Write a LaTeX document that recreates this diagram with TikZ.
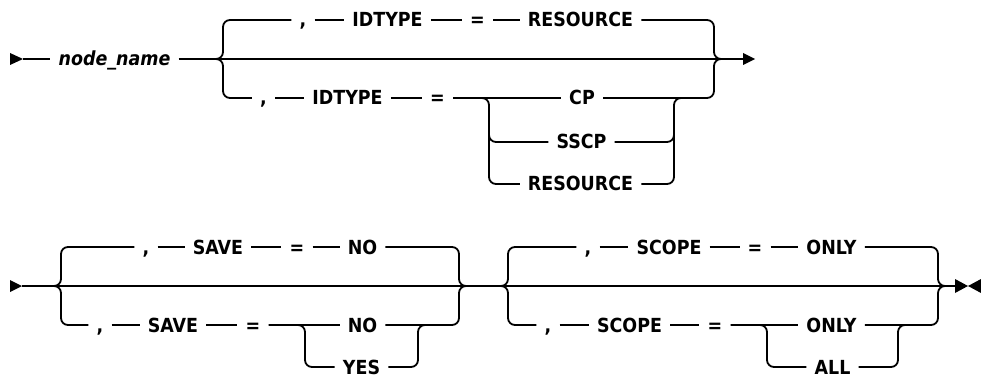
\documentclass[tikz,border=0pt]{standalone}
\usepackage{fontspec}
\setmainfont{DejaVu Sans Condensed}
\begin{document}
\begin{tikzpicture}[x=1pt,y=-1pt,
  rail/.style={line width=1.8pt, rounded corners=7pt, line cap=butt},
  tok/.style={font=\fontsize{19.4}{22}\selectfont\bfseries, inner xsep=8pt, inner ysep=0pt,
    text height=14pt, text depth=0pt, anchor=center},
  ital/.style={tok, font=\fontsize{19.4}{22}\selectfont\bfseries\itshape}]
\useasboundingbox (0,0) rectangle (981,379);
% ---------------- Row 1 ----------------
\coordinate (s1) at (23,59);
\coordinate (e1) at (743,59);
\node[ital] (nn) at (114.5,59) {node\_name};
\coordinate (b1lt) at (210,59);
\coordinate (b1lv) at (223,59);
\coordinate (b1rv) at (714,59);
\coordinate (b1rt) at (728,59);
\node[tok] (c1u) at (303,20) {,};
\node[tok] (id1u) at (387.5,20) {IDTYPE};
\node[tok] (eq1u) at (477.5,20) {=};
\node[tok] (res1u) at (580.5,20) {RESOURCE};
\node[tok] (c1l) at (263.5,98) {,};
\node[tok] (id1l) at (347.5,98) {IDTYPE};
\node[tok] (eq1l) at (437.5,98) {=};
\node[tok] (cp) at (582,98) {CP};
\node[tok] (sscp) at (581.5,142) {SSCP};
\node[tok] (res1l) at (580.5,184) {RESOURCE};
\coordinate (sb1l) at (489,98);
\coordinate (sb1lm) at (489,120);
\coordinate (sb1r) at (674,98);
\coordinate (sb1rm) at (674,120);
\coordinate (sb1rr) at (690,98);
\fill (s1) ++(-13,-6) -- ++(13,6) -- ++(-13,6) -- cycle;
\draw[rail] (s1) -- (nn.west);
\draw[rail] (nn.east) -- (e1);
\fill (e1) ++(0,-6) -- ++(12,6) -- ++(-12,6) -- cycle;
% left brace
\draw[rail] (b1lt) -- (b1lv) |- (c1u.west);
\draw[rail] (b1lt) -- (b1lv) |- (c1l.west);
% upper
\draw[rail] (c1u) -- (id1u);
\draw[rail] (id1u) -- (eq1u);
\draw[rail] (eq1u) -- (res1u);
\draw[rail] (res1u.east) -| (b1rv) -- (b1rt);
% lower
\draw[rail] (c1l) -- (id1l);
\draw[rail] (id1l) -- (eq1l);
\draw[rail] (eq1l.east) -- (cp.west);
\draw[rail] (eq1l.east) -- (sb1l) |- (res1l.west);
\draw[rail] (sb1lm) |- (sscp.west);
\draw[rail] (cp.east) -| (b1rv) -- (b1rt);
\draw[rail] (res1l.east) -| (sb1r) -- (sb1rr);
\draw[rail] (sscp.east) -| (sb1rm);
% ---------------- Row 2 ----------------
\coordinate (s2) at (22,286);
\coordinate (e2) at (955,286);
\fill (s2) ++(-12,-6) -- ++(12,6) -- ++(-12,6) -- cycle;
\draw[rail] (s2) -- (e2);
\fill (e2) ++(0,-7) -- ++(13,7) -- ++(-13,7) -- cycle;
\fill (e2) ++(26,-7) -- ++(-13,7) -- ++(13,7) -- cycle;
% SAVE group
\coordinate (b2lt) at (48,286);
\coordinate (b2lv) at (61,286);
\coordinate (b2rv) at (459,286);
\coordinate (b2rt) at (472,286);
\node[tok] (c2u) at (146,247) {,};
\node[tok] (sv2u) at (218,247) {SAVE};
\node[tok] (eq2u) at (297,247) {=};
\node[tok] (no2u) at (362.5,247) {NO};
\node[tok] (c2l) at (100,325) {,};
\node[tok] (sv2l) at (173,325) {SAVE};
\node[tok] (eq2l) at (253,325) {=};
\node[tok] (no2l) at (362.5,325) {NO};
\node[tok] (yes) at (361.5,367) {YES};
\coordinate (sb2l) at (305,325);
\coordinate (sb2r) at (418,325);
\coordinate (sb2rr) at (432,325);
\draw[rail] (b2lt) -- (b2lv) |- (c2u.west);
\draw[rail] (b2lt) -- (b2lv) |- (c2l.west);
\draw[rail] (c2u) -- (sv2u);
\draw[rail] (sv2u) -- (eq2u);
\draw[rail] (eq2u) -- (no2u);
\draw[rail] (no2u.east) -| (b2rv) -- (b2rt);
\draw[rail] (c2l) -- (sv2l);
\draw[rail] (sv2l) -- (eq2l);
\draw[rail] (eq2l.east) -- (no2l.west);
\draw[rail] (eq2l.east) -- (sb2l) |- (yes.west);
\draw[rail] (no2l.east) -| (b2rv) -- (b2rt);
\draw[rail] (yes.east) -| (sb2r) -- (sb2rr);
% SCOPE group
\coordinate (b3lt) at (495,286);
\coordinate (b3lv) at (508,286);
\coordinate (b3rv) at (938,286);
\coordinate (b3rt) at (951,286);
\node[tok] (c3u) at (588,247) {,};
\node[tok] (sc3u) at (669,247) {SCOPE};
\node[tok] (eq3u) at (755,247) {=};
\node[tok] (on3u) at (831.5,247) {ONLY};
\node[tok] (c3l) at (548,325) {,};
\node[tok] (sc3l) at (629.5,325) {SCOPE};
\node[tok] (eq3l) at (715,325) {=};
\node[tok] (on3l) at (831.5,325) {ONLY};
\node[tok] (all) at (832.5,367) {ALL};
\coordinate (sb3l) at (767,325);
\coordinate (sb3r) at (898,325);
\coordinate (sb3rr) at (912,325);
\draw[rail] (b3lt) -- (b3lv) |- (c3u.west);
\draw[rail] (b3lt) -- (b3lv) |- (c3l.west);
\draw[rail] (c3u) -- (sc3u);
\draw[rail] (sc3u) -- (eq3u);
\draw[rail] (eq3u) -- (on3u);
\draw[rail] (on3u.east) -| (b3rv) -- (b3rt);
\draw[rail] (c3l) -- (sc3l);
\draw[rail] (sc3l) -- (eq3l);
\draw[rail] (eq3l.east) -- (on3l.west);
\draw[rail] (eq3l.east) -- (sb3l) |- (all.west);
\draw[rail] (on3l.east) -| (b3rv) -- (b3rt);
\draw[rail] (all.east) -| (sb3r) -- (sb3rr);
\end{tikzpicture}
\end{document}
